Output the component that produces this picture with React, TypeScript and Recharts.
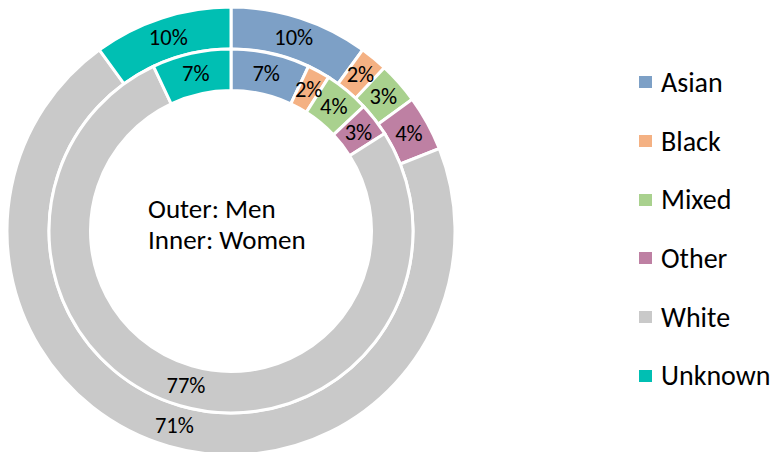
import React from 'react';
import { PieChart, Pie, Cell } from 'recharts';

const CATEGORIES = ['Asian', 'Black', 'Mixed', 'Other', 'White', 'Unknown'];
const MEN = [10, 2, 3, 4, 71, 10];
const WOMEN = [7, 2, 4, 3, 77, 7];
const COLORS = ['#7DA0C6', '#F4B183', '#A9D18E', '#BE80A3', '#C9C9C9', '#00BFB3'];

const FONT = 'Carlito, Calibri, Lato, sans-serif';
const RAD = Math.PI / 180;

const menData = CATEGORIES.map((name, i) => ({ name, value: MEN[i] }));
const womenData = CATEGORIES.map((name, i) => ({ name, value: WOMEN[i] }));

function renderLabel(props: any) {
  const { cx, cy, midAngle, innerRadius, outerRadius, value } = props;
  const r = (innerRadius + outerRadius) / 2;
  const x = cx + r * Math.cos(-midAngle * RAD);
  const y = cy + r * Math.sin(-midAngle * RAD);
  return (
    <text
      x={x}
      y={y}
      fill="#000"
      textAnchor="middle"
      dominantBaseline="central"
      fontSize={22.5}
      fontFamily={FONT}
    >
      {value}%
    </text>
  );
}

export default function App() {
  return (
    <div style={{ position: 'fixed', left: 0, top: 0, width: 775, height: 452, background: '#fff' }}>
      <PieChart width={775} height={452} margin={{ top: 0, right: 0, bottom: 0, left: 0 }}>
        <Pie
          data={menData}
          dataKey="value"
          nameKey="name"
          cx={231}
          cy={231}
          innerRadius={182}
          outerRadius={224}
          startAngle={90}
          endAngle={-270}
          stroke="#fff"
          strokeWidth={3}
          label={renderLabel}
          labelLine={false}
          isAnimationActive={false}
        >
          {menData.map((_, i) => (
            <Cell key={i} fill={COLORS[i]} />
          ))}
        </Pie>
        <Pie
          data={womenData}
          dataKey="value"
          nameKey="name"
          cx={231}
          cy={231}
          innerRadius={140.5}
          outerRadius={182}
          startAngle={90}
          endAngle={-270}
          stroke="#fff"
          strokeWidth={3}
          label={renderLabel}
          labelLine={false}
          isAnimationActive={false}
        >
          {womenData.map((_, i) => (
            <Cell key={i} fill={COLORS[i]} />
          ))}
        </Pie>
      </PieChart>
      <div
        style={{
          position: 'absolute',
          left: 148,
          top: 193,
          fontFamily: FONT,
          fontSize: 27,
          lineHeight: '31px',
          color: '#000',
          whiteSpace: 'nowrap',
        }}
      >
        <div>Outer: Men</div>
        <div>Inner: Women</div>
      </div>
      <div style={{ position: 'absolute', left: 639, top: 53, fontFamily: FONT, fontSize: 28 }}>
        {CATEGORIES.map((c, i) => (
          <div key={c} style={{ display: 'flex', alignItems: 'center', height: 58.7 }}>
            <span style={{ width: 12.5, height: 12, background: COLORS[i], marginRight: 9.5 }} />
            <span>{c}</span>
          </div>
        ))}
      </div>
    </div>
  );
}
